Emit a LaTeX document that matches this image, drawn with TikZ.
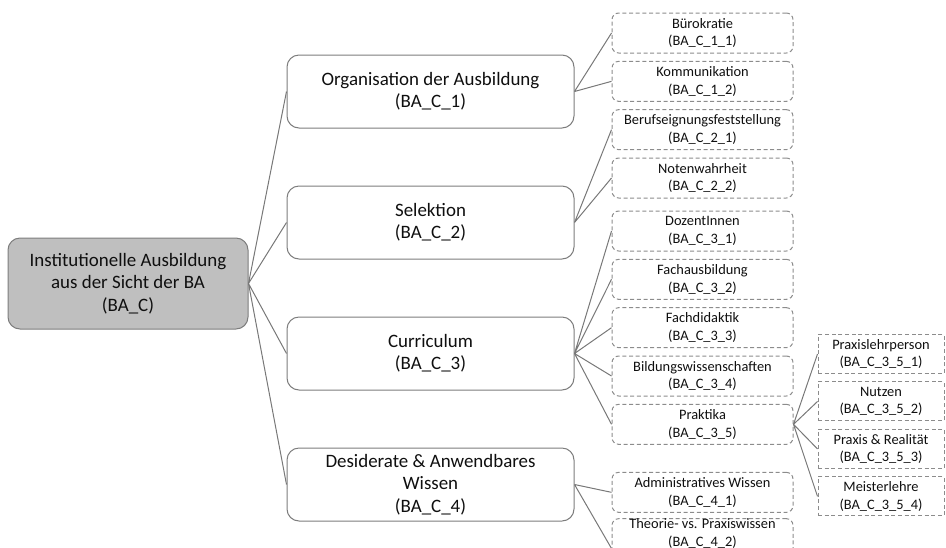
\documentclass[tikz,border=0pt]{standalone}
\usepackage{fontspec}
\setmainfont{Carlito}
\usetikzlibrary{positioning}
\definecolor{rootfill}{RGB}{191,191,191}
\definecolor{boxline}{RGB}{125,125,125}
\definecolor{leafline}{RGB}{140,140,140}
\definecolor{linkgray}{RGB}{120,120,120}
\definecolor{txtblack}{RGB}{15,15,15}

\begin{document}
\begin{tikzpicture}[
  x=0.75pt, y=-0.75pt,
  node distance=5.5pt,
  rootbox/.style={draw=boxline, fill=rootfill, line width=0.75pt, rounded corners=9pt,
    minimum width=180pt, minimum height=68.25pt, inner sep=0pt, align=center,
    text=txtblack, font=\fontsize{14.2}{16.8}\selectfont},
  mainbox/.style={rootbox, fill=white, minimum width=215.25pt, minimum height=54.75pt},
  subbox/.style={draw=leafline, line width=0.75pt, dash pattern=on 3pt off 2pt,
    rounded corners=5pt, minimum width=135.75pt, minimum height=30pt, inner sep=0pt,
    align=center, text=txtblack, font=\fontsize{10.8}{13.2}\selectfont},
  detailbox/.style={subbox, sharp corners, minimum width=94.5pt, minimum height=29.25pt},
  link/.style={draw=linkgray, line width=0.75pt}
]
\useasboundingbox (0,0) rectangle (946,547);

\node[rootbox] (root) at (128,283.5) {Institutionelle Ausbildung\\aus der Sicht der BA\\(BA\_C)};

\node[mainbox] (orga) at (430.5,91.5) {Organisation der Ausbildung\\(BA\_C\_1)};
\node[mainbox, below=42.75pt of orga] (selek) {Selektion\\(BA\_C\_2)};
\node[mainbox, below=42.75pt of selek] (curri) {Curriculum\\(BA\_C\_3)};
\node[mainbox, below=42.75pt of curri] (desid) {Desiderate \& Anwendbares\\Wissen\\(BA\_C\_4)};

\node[subbox] (buero) at (702.5,33) {Bürokratie\\(BA\_C\_1\_1)};
\node[subbox, below=of buero] (komm) {Kommunikation\\(BA\_C\_1\_2)};
\node[subbox, below=of komm] (beruf) {Berufseignungsfeststellung\\(BA\_C\_2\_1)};
\node[subbox, below=of beruf] (noten) {Notenwahrheit\\(BA\_C\_2\_2)};
\node[subbox, below=9pt of noten] (dozent) {DozentInnen\\(BA\_C\_3\_1)};
\node[subbox, below=of dozent] (fachaus) {Fachausbildung\\(BA\_C\_3\_2)};
\node[subbox, below=of fachaus] (fachdid) {Fachdidaktik\\(BA\_C\_3\_3)};
\node[subbox, below=of fachdid] (bildung) {Bildungswissenschaften\\(BA\_C\_3\_4)};
\node[subbox, below=of bildung] (prakt) {Praktika\\(BA\_C\_3\_5)};
\node[subbox, below=20.25pt of prakt] (admin) {Administratives Wissen\\(BA\_C\_4\_1)};
\node[subbox, below=4pt of admin, text depth=24pt] (theorie) {Theorie- vs. Praxiswissen\\(BA\_C\_4\_2)};

\node[detailbox] (plehr) at (881,354) {Praxislehrperson\\(BA\_C\_3\_5\_1)};
\node[detailbox, below=5.6pt of plehr] (nutzen) {Nutzen\\(BA\_C\_3\_5\_2)};
\node[detailbox, below=5.6pt of nutzen] (realitaet) {Praxis \& Realität\\(BA\_C\_3\_5\_3)};
\node[detailbox, below=5.6pt of realitaet] (meister) {Meisterlehre\\(BA\_C\_3\_5\_4)};

% connectors
\draw[link] (root.east) -- (orga.west) (root.east) -- (selek.west)
  (root.east) -- (curri.west) (root.east) -- (desid.west);
\draw[link] (orga.east) -- (buero.west) (orga.east) -- (komm.west);
\draw[link] (selek.east) -- (beruf.west) (selek.east) -- (noten.west);
\draw[link] (curri.east) -- (dozent.west) (curri.east) -- (fachaus.west)
  (curri.east) -- (fachdid.west) (curri.east) -- (bildung.west)
  (curri.east) -- (prakt.west);
\draw[link] (desid.east) -- (admin.west) (desid.east) -- (theorie.west);
\draw[link] (prakt.east) -- (plehr.west) (prakt.east) -- (nutzen.west)
  (prakt.east) -- (realitaet.west) (prakt.east) -- (meister.west);
\end{tikzpicture}
\end{document}
